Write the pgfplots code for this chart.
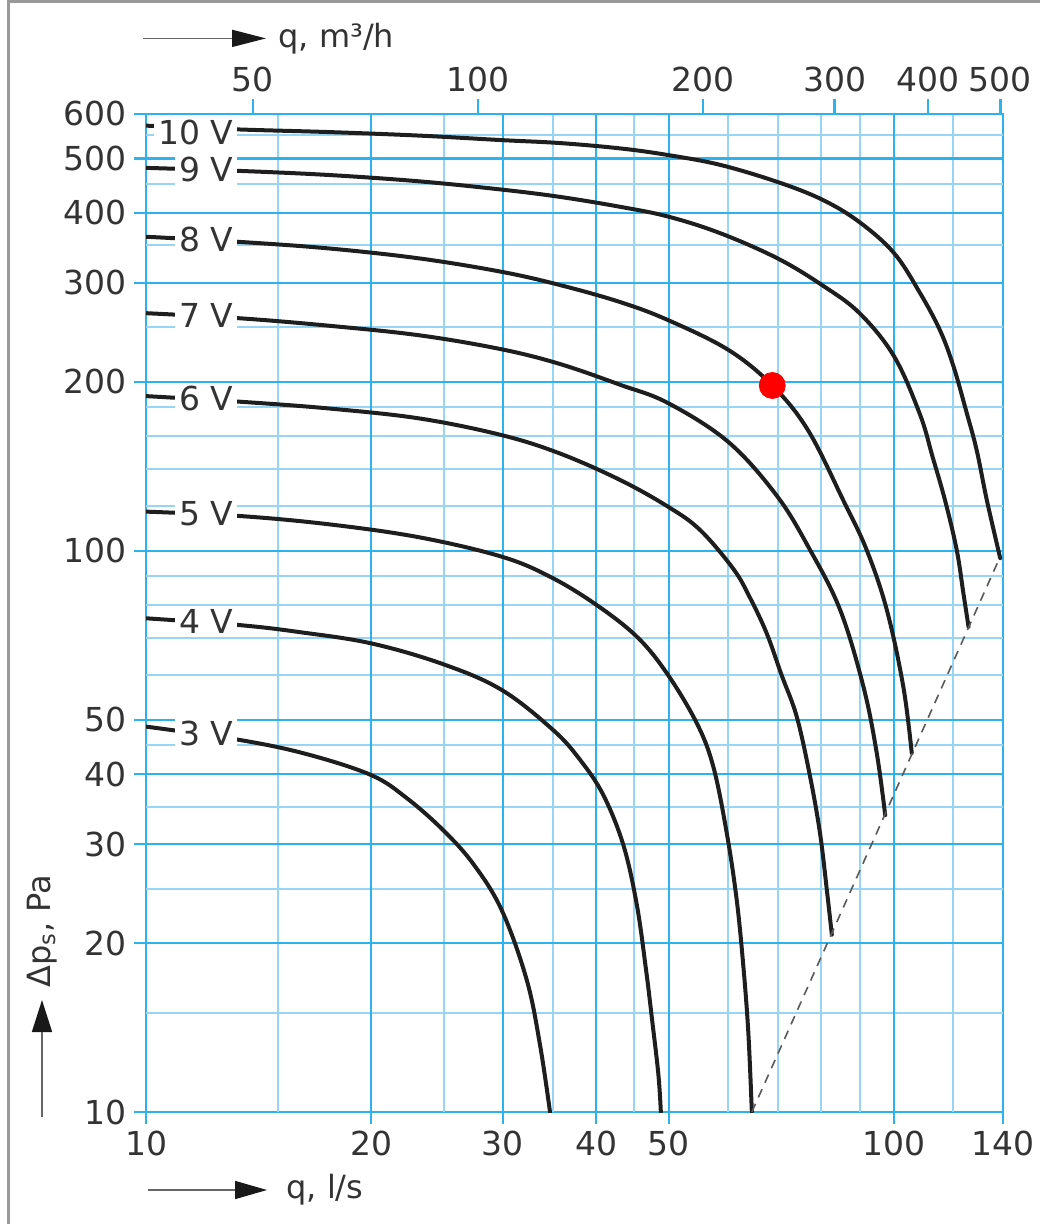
\documentclass[border=0pt]{standalone}
\usepackage{fontspec}
\setmainfont{DejaVu Sans}
\usepackage{pgfplots}
\pgfplotsset{compat=1.18}
\usetikzlibrary{arrows.meta}
\definecolor{gridc}{RGB}{45,178,235}
\definecolor{gridm}{RGB}{150,214,244}
\definecolor{txt}{RGB}{51,51,51}
\definecolor{crv}{RGB}{30,30,30}
\newcommand\lf{\fontsize{16.5}{19}\selectfont}
\newcommand\tf{\fontsize{16}{19}\selectfont}
\tikzset{
  crvst/.style={crv, line width=2pt, line join=round, line cap=round},
  lbl/.style={anchor=east, fill=white, inner xsep=2pt, inner ysep=1.5pt, text=txt, font=\lf},
}
\begin{document}
\begin{tikzpicture}
\useasboundingbox (0,0) rectangle (519.5pt,-612pt);
\draw[black!40, line width=1.5pt] (4pt,-1pt) rectangle (560pt,-660pt);
\begin{axis}[at={(73pt,-556pt)}, anchor=south west, scale only axis,
  width=428.5pt, height=499pt, xmode=log, ymode=log,
  xmin=10, xmax=140, ymin=10, ymax=600,
  tick label style={font=\lf, text=txt},
  tick align=outside,
  tick style={gridc, line width=1.1pt},
  minor tick length=0pt,
  axis line style={gridc, line width=1.2pt},
  xtick={10,20,30,40,50,100,140}, xticklabels={10,20,30,40,50,100,140},
  ytick={10,20,30,40,50,100,200,300,400,500,600},
  yticklabels={10,20,30,40,50,100,200,300,400,500,600},
  minor xtick={}, minor ytick={},
  xtick pos=left, ytick pos=left,
  major tick length=6pt,
  grid=none,
]
% grid lines
\pgfplotsinvokeforeach{15,25,35,45,60,70,80,90,120}{
  \addplot[gridm, line width=1pt] coordinates {(#1,10) (#1,600)};}
\pgfplotsinvokeforeach{15,25,35,45,60,70,80,90,120,140,160,180,250,350,450,550}{
  \addplot[gridm, line width=1pt] coordinates {(10,#1) (140,#1)};}
\pgfplotsinvokeforeach{20,30,40,50,100}{
  \addplot[gridc, line width=1.1pt] coordinates {(#1,10) (#1,600)};}
\pgfplotsinvokeforeach{20,30,40,50,100,200,300,400,500}{
  \addplot[gridc, line width=1.1pt] coordinates {(10,#1) (140,#1)};}
% 10 V
\addplot[crvst, smooth, tension=0.6] coordinates {(10,572) (13.36,563) (17.62,557) (23.26,549) (29.9,539) (35.79,532.5) (43.05,521) (49.9,507) (58.58,487) (69.9,454) (80.3,422) (90,385) (100.1,339) (108.4,288) (115.3,247) (120.2,213) (124.9,178) (129.1,151) (133.2,123) (138.8,97)};
% 9 V
\addplot[crvst, smooth, tension=0.6] coordinates {(10,481) (13.36,475) (17.62,467) (23.26,455) (29.9,440) (35.79,427) (43.05,410) (49.9,394) (58.58,368) (69.87,332) (80.3,297) (90,265) (100.1,222) (108.4,175) (112.7,147) (117.1,123) (121.4,100.3) (123.9,84.1) (125.9,73.2)};
% 8 V
\addplot[crvst, smooth, tension=0.6] coordinates {(10,362.6) (13.36,355) (17.62,345.5) (23.26,331.6) (29.9,314) (35.79,297.4) (43.05,277.4) (49.9,257.6) (60.1,227.9) (68.8,197) (76.8,164) (85.6,123) (92,100.3) (97.9,78.4) (103,57.2) (105.7,43.6)};
% 7 V
\addplot[crvst, smooth, tension=0.6] coordinates {(10,265) (13.36,259.5) (17.62,251.6) (23.26,241.9) (29.9,228.5) (35.79,215.1) (43.05,197.6) (49.9,183.3) (60.1,156.2) (69.8,125.2) (77.3,100.3) (84.8,78.4) (91.1,57.2) (94.9,43.6) (97.4,33.8)};
% 6 V
\addplot[crvst, smooth, tension=0.6] coordinates {(10,188.6) (13.36,184.3) (17.62,179.2) (23.26,172) (29.9,160.7) (35.79,149) (43.05,133.7) (49.9,119.8) (55.07,108.9) (61.03,92.8) (64.25,82.4) (67.64,71.2) (70.8,60.05) (74.19,50.6) (77.29,39.6) (79.7,31.4) (81.37,24.9) (82.64,20.7)};
% 5 V
\addplot[crvst, smooth, tension=0.6] coordinates {(10,117.4) (13.36,115.3) (17.62,111.4) (23.26,105.6) (29.9,97.6) (34.7,89.9) (39.86,80.4) (45.33,70.3) (49.72,60.5) (54.52,49.3) (57.38,41.2) (59.8,31.4) (61.66,23.87) (62.94,18.15) (63.91,13.81) (64.6,10)};
% 4 V
\addplot[crvst, smooth, tension=0.6] coordinates {(10,75.8) (13.36,73.7) (16.07,71.6) (20,68.4) (24.96,62.8) (29.9,56.5) (35.05,47.9) (38.07,42.4) (40.89,36.7) (43.49,29.9) (45.33,23.4) (46.64,17.9) (47.52,14.58) (48.45,11.64) (48.81,10)};
% 3 V
\addplot[crvst, smooth, tension=0.6] coordinates {(10,48.6) (13.36,46.0) (16.42,43.4) (20,39.85) (22.32,36.25) (24.96,31.8) (27.4,27.66) (29.9,22.9) (32.3,17.19) (33.65,13.16) (34.7,10)};
% system line
\addplot[black!65, line width=0.8pt, dash pattern=on 4.5pt off 3.5pt] coordinates {(64.6,10) (138.8,97.6)};
% operating point
\addplot[only marks, mark=*, mark size=6.5pt, color=red, mark options={draw=red, fill=red}] coordinates {(68.8,197)};
\node[lbl, yshift=-2.5pt] at (axis cs:13.27,567) {10 V};
\node[lbl] at (axis cs:13.27,478) {9 V};
\node[lbl] at (axis cs:13.27,358.5) {8 V};
\node[lbl] at (axis cs:13.27,262) {7 V};
\node[lbl] at (axis cs:13.27,186.5) {6 V};
\node[lbl] at (axis cs:13.27,116.3) {5 V};
\node[lbl] at (axis cs:13.27,74.7) {4 V};
\node[lbl] at (axis cs:13.27,47.3) {3 V};
\end{axis}
% top axis in m3/h
\begin{axis}[at={(73pt,-556pt)}, anchor=south west, scale only axis,
  width=428.5pt, height=499pt, xmode=log,
  xmin=36, xmax=504, ymin=0, ymax=1,
  axis x line*=top, axis y line=none,
  x axis line style={gridc, line width=1.2pt, -},
  tick label style={font=\lf, text=txt},
  xtick={50,100,200,300,400,500}, xticklabels={50,100,200,300,400,500},
  tick align=outside,
  tick style={gridc, line width=1.1pt},
  minor tick length=0pt, major tick length=7.5pt]
\addplot[draw=none] coordinates {(100,0.5)};
\end{axis}
% axis titles
\draw[black!60, line width=0.8pt, -{Triangle[length=17pt,width=8.5pt,color=black!90,fill=black!90]}] (71.5pt,-19.2pt) -- (133pt,-19.2pt);
\node[anchor=west, font=\tf, text=txt, inner sep=0pt] at (139pt,-19.5pt) {q, m³/h};
\draw[black!60, line width=0.8pt, -{Triangle[length=16pt,width=9pt,color=black!90,fill=black!90]}] (74pt,-595pt) -- (133.5pt,-595pt);
\node[anchor=west, font=\tf, text=txt, inner sep=0pt] at (143pt,-595pt) {q, l/s};
\draw[black!60, line width=0.8pt, -{Triangle[length=16pt,width=10pt,color=black!90,fill=black!90]}] (21pt,-558.5pt) -- (21pt,-500pt);
\node[rotate=90, font=\tf, text=txt, inner sep=0pt] at (21pt,-465.5pt) {Δp\textsubscript{s}, Pa};
\end{tikzpicture}
\end{document}
